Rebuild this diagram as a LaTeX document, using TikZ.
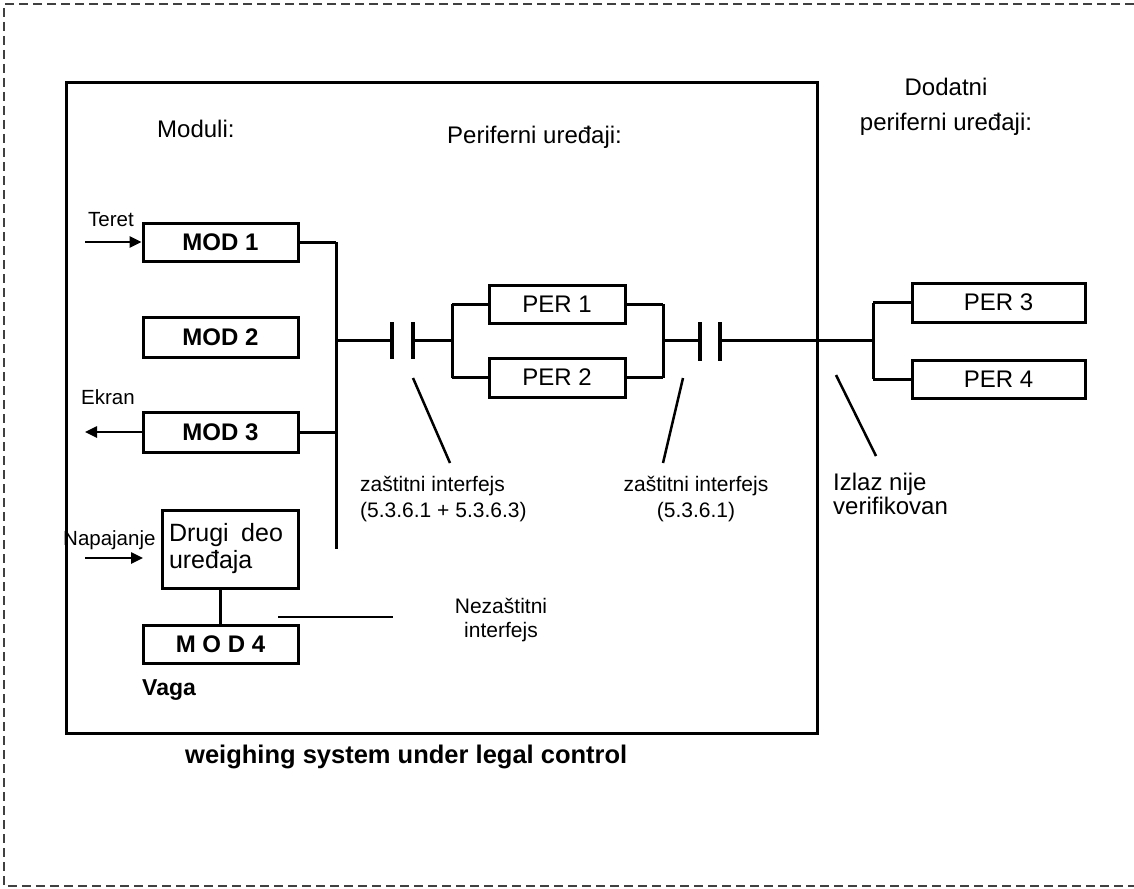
\documentclass[tikz,border=0pt]{standalone}
\usepackage{fontspec}
\setmainfont{Liberation Sans}
\usetikzlibrary{arrows.meta}
\tikzset{
  modbox/.style={draw,line width=3pt,minimum width=155pt,minimum height=38pt,inner sep=0pt,font=\fontsize{24}{28}\selectfont\bfseries},
  perbox/.style={draw,line width=3pt,minimum width=136pt,minimum height=38pt,inner sep=0pt,font=\fontsize{24}{28}\selectfont},
  wire/.style={line width=3pt},
  plate/.style={line width=3.5pt},
  pointer/.style={line width=2.5pt},
  feed/.style={line width=2.5pt,-{Triangle[length=12pt,width=11pt]}},
  outerdash/.style={line width=1.6pt,black!75,dash pattern=on 9pt off 5pt},
  txt/.style={inner sep=0pt,anchor=base west},
  ctxt/.style={inner sep=0pt,anchor=base}
}

\begin{document}
\begin{tikzpicture}[x=1pt,y=-1pt]
\useasboundingbox (0,0) rectangle (1134,888);

% Outer dashed frame, open on the right
\coordinate (fr1) at (1134,4);
\coordinate (fr2) at (4,4);
\coordinate (fr3) at (4,886);
\coordinate (fr4) at (1134,886);
\draw[outerdash] (fr1) -- (fr2) -- (fr3) -- (fr4);

% Weighing system under legal control
\node[draw,line width=3pt,minimum width=751pt,minimum height=650pt,inner sep=0pt] (system) at (441.5,408) {};

% Headings
\node[txt,font=\fontsize{24}{28}\selectfont] (moduli) at (157,137) {Moduli:};
\node[txt,font=\fontsize{24}{28}\selectfont] (periferni) at (447,143) {Periferni uređaji:};
\node[ctxt,font=\fontsize{24}{28}\selectfont] (dodatni) at (946,96) {Dodatni};
\node[ctxt,font=\fontsize{24}{28}\selectfont] (dodatni2) at (946,130) {periferni uređaji:};

% Modules
\node[modbox] (mod1) at (220.5,242) {MOD 1};
\node[modbox,minimum height=40pt] (mod2) at (220.5,337) {MOD 2};
\node[modbox,minimum height=40pt] (mod3) at (220.5,432) {MOD 3};
\node[draw,line width=3pt,minimum width=136pt,minimum height=78pt,inner sep=0pt,
  text width=122pt,align=left,font=\fontsize{25}{27}\selectfont] (drugi) at (230,549) {Drugi\ \,deo\\uređaja};
\node[modbox] (mod4) at (220.5,644) {M O D 4};
\node[txt,font=\fontsize{23}{26}\selectfont\bfseries] (vaga) at (142,695) {Vaga};

% Inputs and outputs
\node[txt,font=\fontsize{20.5}{24}\selectfont] (teret) at (88,226) {Teret};
\node[txt,font=\fontsize{20.5}{24}\selectfont] (ekran) at (81,404) {Ekran};
\node[txt,font=\fontsize{20.5}{24}\selectfont] (napajanje) at (63,545) {Napajanje};
\coordinate (teretin) at (85,242);
\coordinate (ekranout) at (85,432);
\coordinate (napin) at (85,558);
\coordinate (napend) at (143,558);
\draw[feed] (teretin) -- (mod1.west);
\draw[feed] (mod3.west) -- (ekranout);
\draw[feed] (napin) -- (napend);

% Module bus
\coordinate (busT) at (336,242);
\coordinate (busB) at (336,549);
\draw[wire] (busT) -- (busB);
\draw[wire] (mod1.east) -- (busT);
\draw[wire] (mod3.east) -- (mod3.east -| busT);
\draw[wire] (mod4.north) -- (mod4.north |- drugi.south);

% Protective interface 1
\coordinate (c1a) at (392,340);
\coordinate (c1b) at (413,340);
\coordinate (split1) at (452,340);
\draw[wire] (c1a -| busT) -- (c1a);
\draw[plate] ([yshift=18pt]c1a) -- ([yshift=-19pt]c1a);
\draw[plate] ([yshift=18pt]c1b) -- ([yshift=-19pt]c1b);
\draw[wire] (c1b) -- (split1);

% Peripherals
\node[perbox] (per1) at (557,304) {PER 1};
\node[perbox,minimum height=39pt] (per2) at (557,377.5) {PER 2};
\draw[wire] (per1.west -| split1) -- (per2.west -| split1);
\draw[wire] (per1.west -| split1) -- (per1.west);
\draw[wire] (per2.west -| split1) -- (per2.west);

% Protective interface 2
\coordinate (split2) at (663,340);
\coordinate (c2a) at (700,340);
\coordinate (c2b) at (720,340);
\coordinate (split3) at (873,340);
\draw[wire] (per1.east -| split2) -- (per2.east -| split2);
\draw[wire] (per1.east) -- (per1.east -| split2);
\draw[wire] (per2.east) -- (per2.east -| split2);
\draw[wire] (split2) -- (c2a);
\draw[plate] ([yshift=18pt]c2a) -- ([yshift=-21pt]c2a);
\draw[plate] ([yshift=18pt]c2b) -- ([yshift=-21pt]c2b);
\draw[wire] (c2b) -- (split3);

% Additional peripherals
\node[perbox,minimum width=173pt,minimum height=39pt] (per3) at (998.5,302.5) {PER 3};
\node[perbox,minimum width=173pt,minimum height=38pt] (per4) at (998.5,379) {PER 4};
\draw[wire] (per3.west -| split3) -- (per4.west -| split3);
\draw[wire] (per3.west -| split3) -- (per3.west);
\draw[wire] (per4.west -| split3) -- (per4.west);

% Pointers and their labels
\coordinate (p1a) at (413,378);
\coordinate (p1b) at (450,463);
\coordinate (p2a) at (683,378);
\coordinate (p2b) at (663,463);
\coordinate (p3a) at (836,375);
\coordinate (p3b) at (876,456);
\draw[pointer] (p1a) -- (p1b);
\draw[pointer] (p2a) -- (p2b);
\draw[pointer] (p3a) -- (p3b);

\node[txt,font=\fontsize{21}{24}\selectfont] (zast1) at (360,491) {zaštitni interfejs};
\node[txt,font=\fontsize{21}{24}\selectfont] (zast1b) at (360,517) {(5.3.6.1 + 5.3.6.3)};
\node[ctxt,font=\fontsize{21}{24}\selectfont] (zast2) at (696,491) {zaštitni interfejs};
\node[ctxt,font=\fontsize{21}{24}\selectfont] (zast2b) at (696,517) {(5.3.6.1)};
\node[txt,font=\fontsize{24}{28}\selectfont] (izlaz) at (833,490) {Izlaz nije};
\node[txt,font=\fontsize{24}{28}\selectfont] (izlazb) at (833,514) {verifikovan};

% Non-protective interface
\coordinate (nz1) at (278,617);
\coordinate (nz2) at (393,617);
\draw[line width=2pt] (nz1) -- (nz2);
\node[ctxt,font=\fontsize{21}{24}\selectfont] (nezast) at (501,613) {Nezaštitni};
\node[ctxt,font=\fontsize{21}{24}\selectfont] (nezastb) at (501,637) {interfejs};

% Caption
\node[txt,font=\fontsize{25.5}{28}\selectfont\bfseries] (caption) at (185,763) {weighing system under legal control};

\end{tikzpicture}
\end{document}
